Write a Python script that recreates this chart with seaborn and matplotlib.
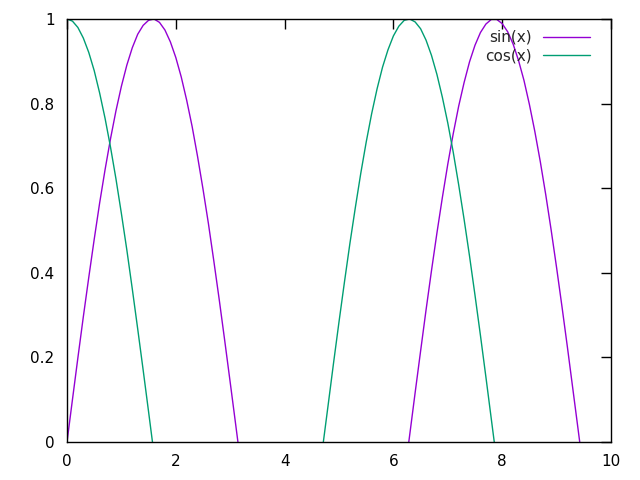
import pandas as pd
import matplotlib
matplotlib.use("Agg")
import matplotlib.pyplot as plt
import seaborn as sns

sns.set_style("white")
plt.rcParams['font.family'] = ['DejaVu Sans']

# sample grid (gnuplot style, 0..10)
x_vals = [0.0, 0.1, 0.2, 0.3, 0.4, 0.5, 0.6, 0.7, 0.8, 0.9,
          1.0, 1.1, 1.2, 1.3, 1.4, 1.5, 1.6, 1.7, 1.8, 1.9,
          2.0, 2.1, 2.2, 2.3, 2.4, 2.5, 2.6, 2.7, 2.8, 2.9,
          3.0, 3.1, 3.2, 3.3, 3.4, 3.5, 3.6, 3.7, 3.8, 3.9,
          4.0, 4.1, 4.2, 4.3, 4.4, 4.5, 4.6, 4.7, 4.8, 4.9,
          5.0, 5.1, 5.2, 5.3, 5.4, 5.5, 5.6, 5.7, 5.8, 5.9,
          6.0, 6.1, 6.2, 6.3, 6.4, 6.5, 6.6, 6.7, 6.8, 6.9,
          7.0, 7.1, 7.2, 7.3, 7.4, 7.5, 7.6, 7.7, 7.8, 7.9,
          8.0, 8.1, 8.2, 8.3, 8.4, 8.5, 8.6, 8.7, 8.8, 8.9,
          9.0, 9.1, 9.2, 9.3, 9.4, 9.5, 9.6, 9.7, 9.8, 9.9, 10.0]

sin_vals = [0.000, 0.100, 0.199, 0.296, 0.389, 0.479, 0.565, 0.644, 0.717, 0.783,
            0.841, 0.891, 0.932, 0.964, 0.985, 0.997, 1.000, 0.992, 0.974, 0.946,
            0.909, 0.863, 0.808, 0.746, 0.675, 0.598, 0.516, 0.427, 0.335, 0.239,
            0.141, 0.042, -0.058, -0.158, -0.256, -0.351, -0.443, -0.530, -0.612, -0.688,
            -0.757, -0.818, -0.872, -0.916, -0.952, -0.978, -0.994, -1.000, -0.996, -0.982,
            -0.959, -0.926, -0.883, -0.832, -0.773, -0.706, -0.631, -0.551, -0.465, -0.374,
            -0.279, -0.182, -0.083, 0.017, 0.117, 0.215, 0.312, 0.405, 0.494, 0.578,
            0.657, 0.729, 0.794, 0.850, 0.899, 0.938, 0.968, 0.988, 0.999, 0.999,
            0.989, 0.970, 0.941, 0.902, 0.855, 0.798, 0.734, 0.663, 0.585, 0.501,
            0.412, 0.319, 0.223, 0.124, 0.025, -0.075, -0.174, -0.271, -0.366, -0.458, -0.544]

cos_vals = [1.000, 0.995, 0.980, 0.955, 0.921, 0.878, 0.825, 0.765, 0.697, 0.622,
            0.540, 0.454, 0.362, 0.267, 0.170, 0.071, -0.029, -0.129, -0.227, -0.323,
            -0.416, -0.505, -0.589, -0.666, -0.737, -0.801, -0.857, -0.904, -0.942, -0.971,
            -0.990, -0.999, -0.998, -0.987, -0.967, -0.936, -0.897, -0.848, -0.791, -0.726,
            -0.654, -0.575, -0.490, -0.401, -0.307, -0.211, -0.112, -0.012, 0.087, 0.187,
            0.284, 0.378, 0.469, 0.554, 0.635, 0.709, 0.776, 0.835, 0.886, 0.927,
            0.960, 0.983, 0.997, 1.000, 0.993, 0.977, 0.950, 0.914, 0.869, 0.815,
            0.754, 0.685, 0.608, 0.526, 0.439, 0.347, 0.252, 0.154, 0.054, -0.046,
            -0.146, -0.244, -0.340, -0.432, -0.519, -0.602, -0.678, -0.747, -0.811, -0.859,
            -0.911, -0.949, -0.975, -0.993, -1.000, -0.997, -0.985, -0.962, -0.930, -0.889, -0.839]

df = pd.DataFrame({
    'x': x_vals * 2,
    'y': sin_vals + cos_vals,
    'series': ['sin(x)'] * len(x_vals) + ['cos(x)'] * len(x_vals),
})

fig = plt.figure(figsize=(6.4, 4.8), dpi=100)
ax = fig.add_axes([67 / 640, 1 - 442 / 480, (611 - 67) / 640, (442 - 19) / 480])

sns.lineplot(data=df, x='x', y='y', hue='series', sort=False,
             palette={'sin(x)': '#9400d3', 'cos(x)': '#009e73'},
             linewidth=1, ax=ax)

ax.set_xlim(0, 10)
ax.set_ylim(0, 1)
ax.set_xticks([0, 2, 4, 6, 8, 10])
ax.set_xticklabels(['0', '2', '4', '6', '8', '10'])
ax.set_yticks([0, 0.2, 0.4, 0.6, 0.8, 1])
ax.set_yticklabels(['0', '0.2', '0.4', '0.6', '0.8', '1'])
ax.set_xlabel('')
ax.set_ylabel('')
ax.tick_params(direction='in', length=7, width=1, top=True, right=True,
               labelsize=11, colors='black', pad=9)
for s in ax.spines.values():
    s.set_color('black')
    s.set_linewidth(1)

ax.legend(loc='upper right', bbox_to_anchor=(590 / 640, 1 - 30 / 480),
          bbox_transform=fig.transFigure, frameon=False, markerfirst=False,
          fontsize=11, handlelength=3.1, handletextpad=0.7, labelspacing=0.22,
          borderpad=0, borderaxespad=0)

fig.savefig('out.png', dpi=100)
